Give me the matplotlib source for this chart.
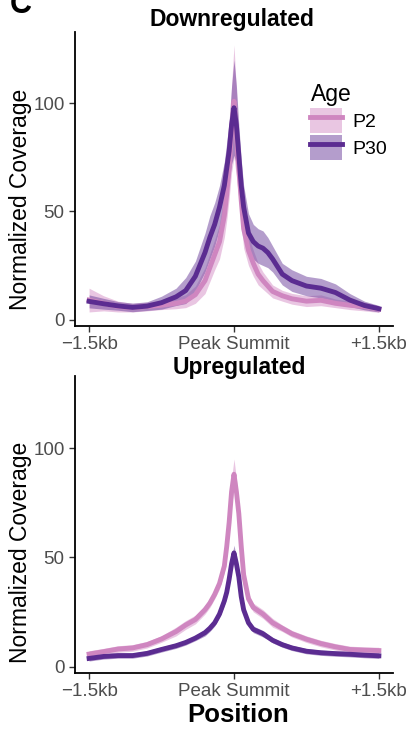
import numpy as np
import matplotlib.pyplot as plt
from matplotlib.patches import Patch
from matplotlib.lines import Line2D

plt.rcParams['font.family'] = ['Liberation Sans', 'DejaVu Sans']

# Position relative to peak summit [bp]
pos = [-1500, -1350, -1200, -1050, -900, -750, -600, -500, -400, -300, -250, -200, -150, -100,
       -75, -50, -25, 0, 25, 50, 75, 100, 150, 200, 250, 300, 350, 400, 500, 600, 750, 900,
       1050, 1200, 1350, 1500]

# Downregulated peaks (mean and ribbon half-width)
down_p2 = [9.0, 7.5, 6.0, 5.5, 6.0, 6.6, 7.5, 8.5, 11.5, 18, 24, 30, 36, 48,
           58, 70, 88, 101, 86, 70, 55, 42, 32, 26, 21, 18, 15.5, 13, 11, 9.6, 8.5, 8.9,
           7.5, 6.6, 6.0, 4.8]
down_p2_se = [5.5, 3.5, 2.5, 2, 2, 2, 2.5, 3, 4, 6, 6.5, 7, 8, 10,
              12, 14, 20, 26, 20, 14, 11, 9, 7, 6, 5, 4, 3.5, 3, 2.5, 2.5, 2.5, 2.5,
              2, 2, 2, 1.5]
down_p30 = [8.4, 7.3, 6.3, 5.6, 6.2, 7.8, 10.5, 13.4, 20, 31, 38, 44, 52, 62,
            70, 78, 90, 98, 90, 76, 62, 52, 40, 36, 34, 33, 31, 28, 21, 18, 15.5, 14.5,
            12.5, 9, 6.5, 5]
down_p30_se = [3, 2.5, 2, 2, 2, 3, 4, 6, 7, 9, 10, 10, 10, 11,
               12, 14, 18, 22, 18, 14, 12, 10, 9, 8, 8, 8, 7, 6, 5, 5, 4.5, 4.5,
               4, 3, 2, 1.5]

# Upregulated peaks
up_p2 = [5.7, 6.8, 8.0, 8.5, 10, 12.6, 16, 19, 21.5, 26, 29, 33, 38, 46,
         55, 66, 80, 88, 80, 70, 55, 42, 31, 27, 25.5, 24, 22, 20, 17.5, 15, 12.5, 10.5,
         9, 7.8, 7.5, 7.3]
up_p2_se = [1.5, 1.5, 1.5, 1.5, 1.5, 1.5, 2, 2, 2, 2, 2, 2, 2.5, 3,
            3.5, 4, 6, 7, 6, 4, 3.5, 3, 2.5, 2, 2, 2, 2, 2, 1.5, 1.5, 1.5, 1.5,
            1.5, 1.5, 1.5, 1.5]
up_p30 = [3.7, 4.6, 5.0, 5.0, 6.0, 7.8, 9.5, 11, 13, 15.5, 17.5, 20, 24, 30,
          34, 40, 47, 52, 47, 41, 32, 26, 20, 17, 16, 15, 13.5, 12, 10, 8.5, 7, 6.3,
          5.9, 5.6, 5.2, 4.9]
up_p30_se = [1.2, 1.2, 1.2, 1.2, 1.2, 1.2, 1.2, 1.2, 1.2, 1.5, 1.5, 1.5, 1.5, 2,
             2.2, 2.5, 3, 3.5, 3, 2.5, 2.2, 2, 1.5, 1.5, 1.5, 1.5, 1.2, 1.2, 1.2, 1.2, 1.2, 1.2,
             1.2, 1.2, 1.2, 1.2]

tick_pos = [-1500, 0, 1500]
tick_labels = ['\u22121.5kb', 'Peak Summit', '+1.5kb']
ages = ['P2', 'P30']
col_line = {'P2': '#CF86C0', 'P30': '#5B2C91'}
col_fill = {'P2': '#D58EC6', 'P30': '#6A3D9A'}

fig = plt.figure(figsize=(4.08, 7.3), dpi=100)
ax1 = fig.add_axes([0.184, 0.5534, 0.779, 0.4027])
ax2 = fig.add_axes([0.184, 0.078, 0.779, 0.407])

panels = [
    (ax1, 'Downregulated', down_p2, down_p2_se, down_p30, down_p30_se, 0.494, 1.041, 0.43),
    (ax2, 'Upregulated', up_p2, up_p2_se, up_p30, up_p30_se, 0.517, 1.027, 0.406),
]

x = np.array(pos)
for ax, title, m2, s2, m30, s30, tx, ty, ly in panels:
    series = {'P2': (np.array(m2), np.array(s2)), 'P30': (np.array(m30), np.array(s30))}
    for a in ages:
        m, s = series[a]
        ax.fill_between(x, m - s, m + s, color=col_fill[a], alpha=0.5, lw=0)
    for a in ages:
        m, s = series[a]
        ax.plot(x, m, color=col_line[a], lw=3.5, solid_joinstyle='round')
    ax.set_xlim(-1645, 1645)
    ax.set_ylim(-3, 133)
    ax.set_yticks([0, 50, 100])
    ax.set_xticks(tick_pos)
    ax.set_xticklabels(tick_labels)
    ax.tick_params(labelsize=13.5, labelcolor='#4D4D4D', color='#333333', length=4, width=1)
    for sp in ['top', 'right']:
        ax.spines[sp].set_visible(False)
    for sp in ['left', 'bottom']:
        ax.spines[sp].set_linewidth(1.3)
    ax.set_ylabel('Normalized Coverage', fontsize=16.5)
    ax.yaxis.set_label_coords(-0.135, ly)
    ax.text(tx, ty, title, transform=ax.transAxes, ha='center', va='center',
            fontsize=16.5, fontweight='bold')

ax2.set_xlabel('Position', fontsize=18.5, fontweight='bold')
ax2.xaxis.set_label_coords(0.513, -0.1)

handles = [(Patch(facecolor=col_fill[a], alpha=0.5, lw=0),
            Line2D([], [], color=col_line[a], lw=3.5)) for a in ages]
leg = ax1.legend(handles, ages, title='Age', loc='upper left', bbox_to_anchor=(0.71, 0.86),
                 frameon=False, fontsize=14, title_fontsize=16.5, handlelength=1.6,
                 handleheight=1.6, labelspacing=0.1, borderpad=0, handletextpad=0.55,
                 alignment='left')

fig.text(0.025, 0.993, 'C', fontsize=22, fontweight='bold', va='center', ha='left')

fig.savefig('out.png', dpi=100)
